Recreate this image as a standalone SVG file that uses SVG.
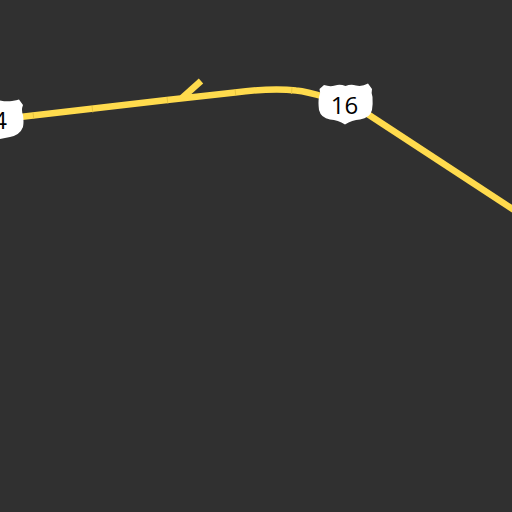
<svg xmlns="http://www.w3.org/2000/svg" width="512" height="512" viewBox="0 0 512 512">
<style>
.road{fill:none;stroke:#ffdb4d;stroke-width:6.5;stroke-linecap:butt;stroke-linejoin:round}
.tick{fill:none;stroke:#e0bd3c;stroke-width:0.8}
.shield{fill:#fff}
.num{font-family:"Open Sans","DejaVu Sans",sans-serif;font-size:24px;fill:#000;text-anchor:middle}
</style>
<rect width="512" height="512" fill="#303030"/>
<g id="connectors">
<path class="road" d="M20 117 L167 100 L235 92.500 C258 89.500 280 88.500 296 90.500 C306 91.500 315 94 325 97"/>
<path class="road" d="M366 113 L514 210"/>
<path class="road" d="M182 98 L201 81"/>
<path class="tick" d="M33 112.500 L33.800 119 M92 106 L92.800 112.500 M167 97 L167.800 103.500 M235 89 L235.800 95.500 M292 87.500 L291.500 94"/>
</g>
<g id="shield-16">
<path class="shield" d="M324 85 Q330 87 335 85.500 Q340 84 345.500 86 Q351 84 356 85.500 Q362 87 368 83.500 L372 89 Q371 93 372.500 97 Q373 104 372 110 Q370 118 360 119.500 Q352 120 345 124.500 Q338 120 330 119.500 Q321 118 319 110 Q318 102 319 97 Q321 93 319.500 89 Z"/>
<text class="num" x="344.500" y="114">16</text>
</g>
<g id="shield-4">
<path class="shield" d="M-30 102 Q-20 103 -10 101 L-2 100 Q6 102 12 101 Q17 100 19 99.500 L23 105 Q21 110 23 115 Q24 122 23 127 Q20 135 10 137 L0 139 L-30 139 Z"/>
<text class="num" x="0" y="129">4</text>
</g>
</svg>
